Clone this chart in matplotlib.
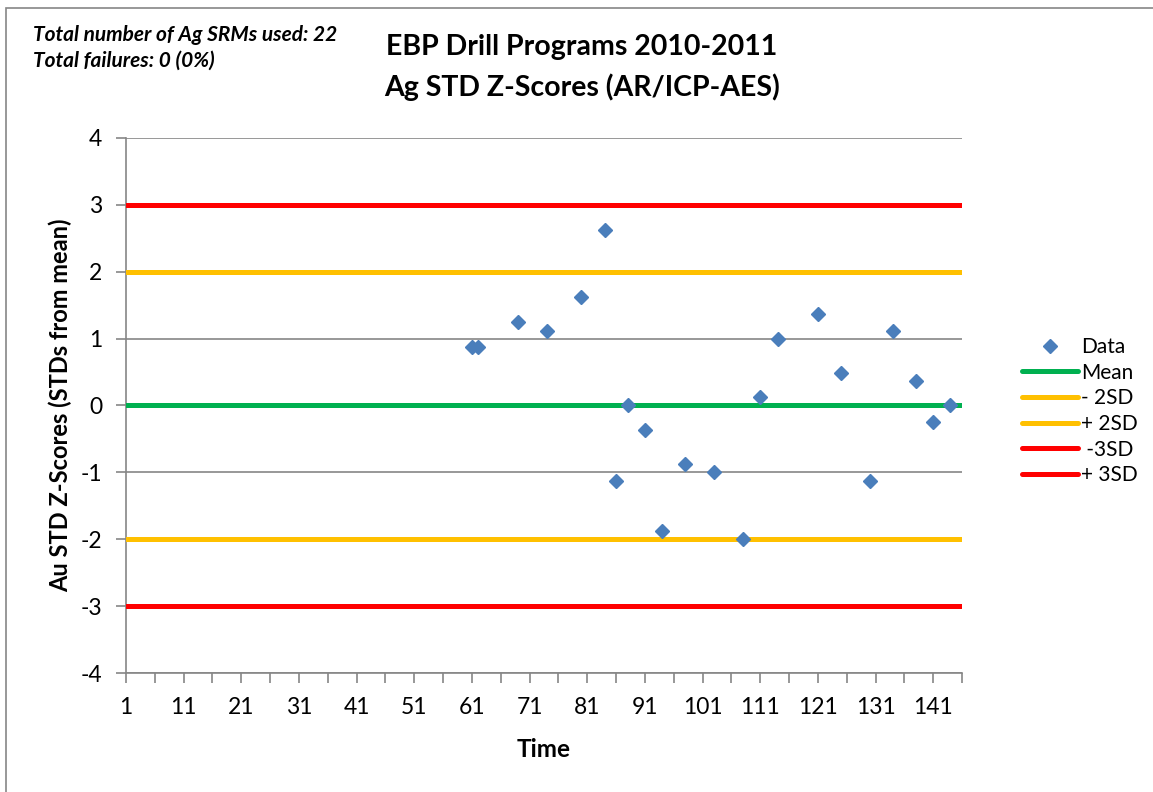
import matplotlib.pyplot as plt
from matplotlib.patches import Rectangle

# sample numbers (time) and z-scores of the 22 Ag SRMs
time = [61, 62, 69, 74, 80, 84, 86, 88, 91, 94, 98,
        103, 108, 111, 114, 121, 125, 130, 134, 138, 141, 144]
zscore = [0.87, 0.87, 1.25, 1.12, 1.62, 2.62, -1.13, 0.0, -0.37, -1.88, -0.88,
          -1.0, -2.0, 0.12, 1.0, 1.37, 0.49, -1.13, 1.12, 0.37, -0.25, 0.0]

# control lines
limit_names = ["Mean", "- 2SD", "+ 2SD", " -3SD", "+ 3SD"]
limit_values = [0, -2, 2, -3, 3]
limit_colors = ["#00B050", "#FFC000", "#FFC000", "#FF0000", "#FF0000"]

x_first, x_last = 1, 146

plt.rcParams['font.family'] = ['Lato', 'DejaVu Sans']
plt.rcParams['axes.unicode_minus'] = False

fig = plt.figure(figsize=(11.53, 7.92), dpi=100)
ax = fig.add_axes([126 / 1153, 1 - 673 / 792, (962 - 126) / 1153, (673 - 138) / 792])

# outer chart border
fig.patches.append(Rectangle((6 / 1153, -0.05), 1.1, 1 - 8 / 792 + 0.05,
                             transform=fig.transFigure, fill=False,
                             edgecolor="#868686", linewidth=1.2))

# horizontal gridlines
for g in range(-4, 5):
    ax.axhline(g, color="#868686", linewidth=1.2, zorder=1)

# mean / SD lines
for name, val, col in zip(limit_names, limit_values, limit_colors):
    ax.plot([x_first, x_last], [val, val], color=col, linewidth=3.6,
            solid_capstyle="round", label=name, zorder=2)

ax.plot(time, zscore, linestyle="none", marker="D", markersize=7.3,
        color="#4A7EBB", label="Data", zorder=3)

ax.set_xlim(x_first, x_last)
ax.set_ylim(-4, 4)
ax.set_yticks(range(-4, 5))
ax.set_xticks(range(1, 146, 10))
ax.set_xticks(range(1, 147, 5), minor=True)
ax.tick_params(axis="both", which="both", direction="out", color="#868686",
               width=1.2, labelsize=16.5)
ax.tick_params(axis="y", length=7, pad=10)
ax.tick_params(axis="x", which="both", length=7, pad=10)

for side in ["top", "right"]:
    ax.spines[side].set_visible(False)
for side in ["left", "bottom"]:
    ax.spines[side].set_color("#868686")
    ax.spines[side].set_linewidth(1.2)
    ax.spines[side].set_zorder(1)

ax.set_xlabel("Time", fontsize=17.5, fontweight="bold", labelpad=15)
ax.set_ylabel("Au STD Z-Scores (STDs from mean)", fontsize=17,
              fontweight="bold", labelpad=6)

fig.text(582 / 1153, 1 - 47 / 792, "EBP Drill Programs 2010-2011",
         ha="center", va="center", fontsize=20.5, fontweight="bold")
fig.text(582 / 1153, 1 - 87 / 792, "Ag STD Z-Scores (AR/ICP-AES)",
         ha="center", va="center", fontsize=20.5, fontweight="bold")

fig.text(33 / 1153, 1 - 35 / 792, "Total number of Ag SRMs used: 22",
         ha="left", va="center", fontsize=15, fontweight="bold", style="italic")
fig.text(33 / 1153, 1 - 61 / 792, "Total failures: 0 (0%)",
         ha="left", va="center", fontsize=15, fontweight="bold", style="italic")

handles, labels = ax.get_legend_handles_labels()
order = [5, 0, 1, 2, 3, 4]
ax.legend([handles[i] for i in order], [labels[i] for i in order],
          loc="upper left", bbox_to_anchor=(1022 / 1153, 1 - 337 / 792),
          bbox_transform=fig.transFigure, frameon=False, fontsize=15,
          handlelength=2.7, handletextpad=0.15, labelspacing=0.27,
          borderpad=0, borderaxespad=0)

plt.savefig("out.png", dpi=100)
